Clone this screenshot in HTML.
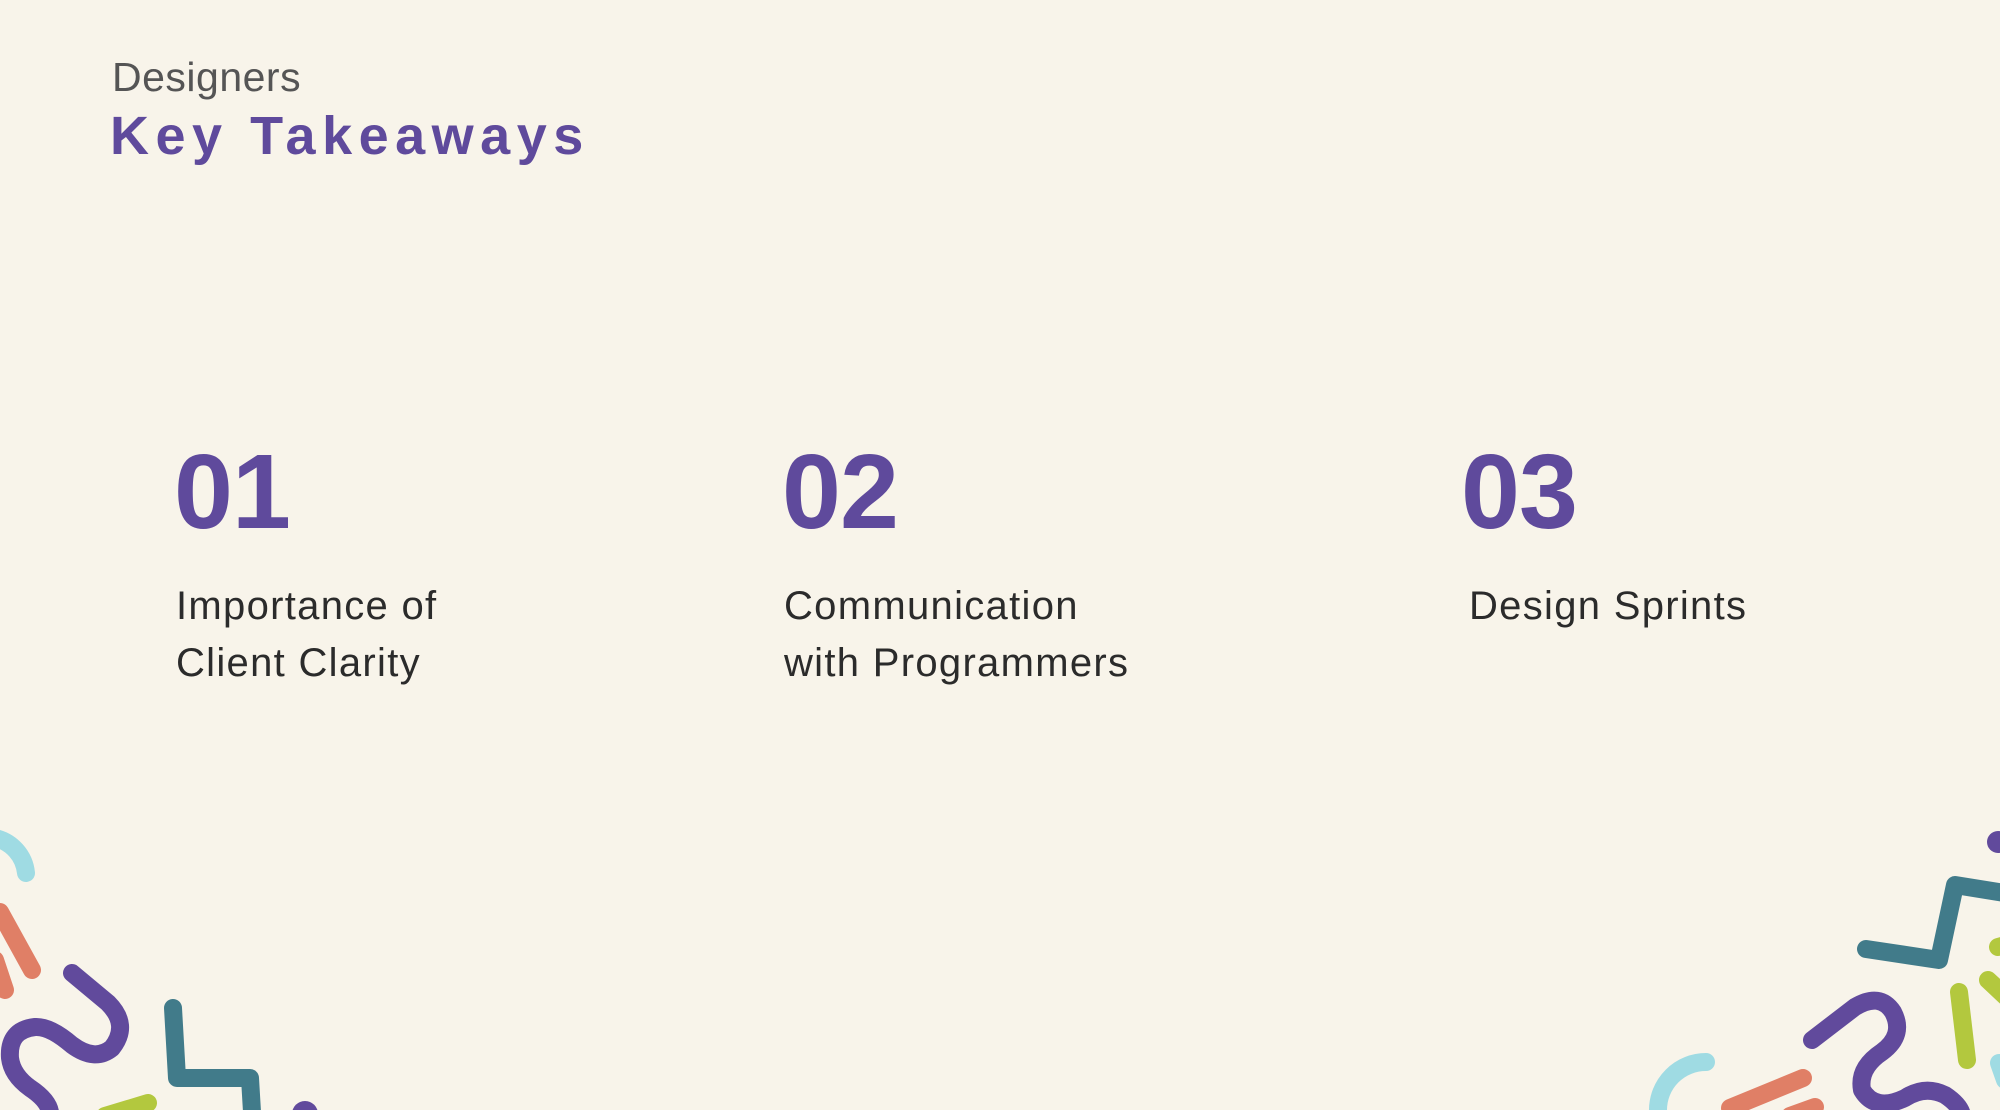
<!DOCTYPE html>
<html><head><meta charset="utf-8"><style>
html,body{margin:0;padding:0}
body{width:2000px;height:1110px;background:#f8f4ea;position:relative;overflow:hidden;font-family:"Liberation Sans",sans-serif}
.t{position:absolute;white-space:nowrap;line-height:1}
.num{font-weight:bold;color:#5f4a9c;font-size:106px;letter-spacing:-1px}
.lab{color:#2b2b2b;font-size:40px;line-height:57px;letter-spacing:1.3px}
svg{position:absolute;left:0;top:0}
</style></head><body>
<div class="t" style="left:112px;top:57px;font-size:41px;color:#555;letter-spacing:0.5px">Designers</div>
<div class="t" style="left:110px;top:109px;font-size:54px;font-weight:bold;color:#5f4a9c;letter-spacing:6.5px">Key Takeaways</div>

<div class="t num" style="left:174px;top:439px">01</div>
<div class="t num" style="left:782px;top:439px">02</div>
<div class="t num" style="left:1461px;top:439px">03</div>

<div class="t lab" style="left:176px;top:578px">Importance of<br>Client Clarity</div>
<div class="t lab" style="left:784px;top:578px">Communication<br>with Programmers</div>
<div class="t lab" style="left:1469px;top:578px">Design Sprints</div>

<svg width="2000" height="1110" viewBox="0 0 2000 1110" fill="none" stroke-linecap="round" stroke-linejoin="round" stroke-width="18">
<path d="M-5 838 A40 40 0 0 1 26 873" stroke="#9fdbe3"/>
<path d="M0 912 L32 970 M-5 960 L5 990" stroke="#e07f66"/>
<path d="M72 973 L108 1003 Q130 1025 112 1048 Q95 1062 72 1045 Q50 1026 35 1027 Q8 1030 10 1058 Q12 1075 30 1088 Q48 1100 50 1112" stroke="#614a9c"/>
<path d="M173 1008 L177 1078 L250 1078 L252 1112" stroke="#417b8a"/>
<path d="M148 1103 L105 1116" stroke="#b3c83e"/>
<circle cx="305" cy="1114" r="13" fill="#614a9c" stroke="none"/>

<circle cx="1998" cy="842" r="11" fill="#614a9c" stroke="none"/>
<path d="M1866 949 L1939 960 L1955 885 L2005 893" stroke="#417b8a"/>
<path d="M1998 947 L2005 945 M1988 980 L2005 996" stroke="#b3c83e"/>
<path d="M1959 992 L1967 1060" stroke="#b3c83e"/>
<path d="M1812 1040 L1855 1007 Q1880 992 1893 1012 Q1905 1035 1882 1052 Q1858 1068 1862 1090 Q1875 1112 1905 1098 Q1925 1085 1945 1095 Q1960 1105 1962 1115" stroke="#614a9c"/>
<path d="M1706 1062 A48 48 0 0 0 1658 1110" stroke="#9fdbe3"/>
<path d="M1730 1108 L1803 1078 M1815 1107 L1790 1116" stroke="#e07f66"/>
<path d="M1999 1063 L2005 1080" stroke="#9fdbe3"/>
</svg>
</body></html>
